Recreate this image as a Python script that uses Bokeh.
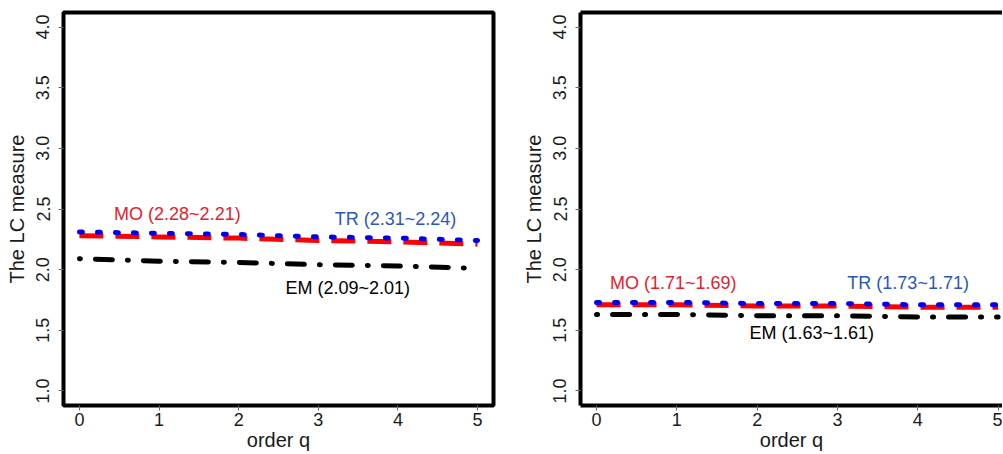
from bokeh.plotting import figure
from bokeh.layouts import row
from bokeh.models import Range1d, FixedTicker, LinearAxis
from bokeh.embed import file_html
from bokeh.resources import INLINE

# ---- data ----
q = [0, 1, 2, 3, 4, 5]
# left panel
mo_left = [2.28, 2.27, 2.26, 2.24, 2.23, 2.21]
tr_left = [2.31, 2.30, 2.29, 2.27, 2.26, 2.24]
em_left = [2.09, 2.07, 2.06, 2.04, 2.03, 2.01]
# right panel
mo_right = [1.71, 1.71, 1.70, 1.70, 1.69, 1.69]
tr_right = [1.73, 1.73, 1.72, 1.72, 1.71, 1.71]
em_right = [1.63, 1.63, 1.62, 1.62, 1.61, 1.61]

labels_left = ["MO (2.28~2.21)", "TR (2.31~2.24)", "EM (2.09~2.01)"]
labels_right = ["MO (1.71~1.69)", "TR (1.73~1.71)", "EM (1.63~1.61)"]
# annotation anchor positions (data coords)
lab_x_left = [1.23, 3.97, 3.37]
lab_y_left = [2.455, 2.42, 1.85]
lab_x_right = [0.955, 3.88, 2.68]
lab_y_right = [1.89, 1.89, 1.48]

x_ticks = [0, 1, 2, 3, 4, 5]
y_ticks = [1.0, 1.5, 2.0, 2.5, 3.0, 3.5, 4.0]
y_tick_labels = {1.0: "1.0", 1.5: "1.5", 2.0: "2.0", 2.5: "2.5", 3.0: "3.0", 3.5: "3.5", 4.0: "4.0"}

FONT = "Liberation Sans"
LINE_RED = "#ff0000"
LINE_BLUE = "#0000ee"
TXT_RED = "#e8202a"
TXT_BLUE = "#2b57b5"
label_colors = [TXT_RED, TXT_BLUE, "#000000"]


def style_axes(p):
    for ax in (p.xaxis[0], p.yaxis[0]):
        ax.major_tick_in = 0
        ax.major_tick_out = 5
        ax.major_tick_line_color = "#666666"
        ax.minor_tick_line_color = None
        ax.major_label_text_font = FONT
        ax.major_label_text_font_size = "18px"
        ax.major_label_text_color = "#1a1a1a"
        ax.axis_label_text_font = FONT
        ax.axis_label_text_font_size = "20px"
        ax.axis_label_text_font_style = "normal"
        ax.axis_label_text_color = "#1a1a1a"
    p.xaxis[0].ticker = FixedTicker(ticks=x_ticks)
    p.yaxis[0].ticker = FixedTicker(ticks=y_ticks)
    p.yaxis[0].major_label_overrides = y_tick_labels
    p.yaxis[0].major_label_orientation = "vertical"
    p.xaxis[0].axis_label = "order q"
    p.yaxis[0].axis_label = "The LC measure"
    p.xaxis[0].major_label_standoff = 2
    p.yaxis[0].major_label_standoff = 9
    p.xaxis[0].axis_label_standoff = 0
    p.yaxis[0].axis_label_standoff = 6
    p.xgrid.visible = False
    p.ygrid.visible = False


def draw_series(p, mo, tr, em, labels, lx, ly):
    p.line(q, em, line_color="#000000", line_width=5, line_dash="1 15 17 15", line_cap="round")
    p.line(q, mo, line_color=LINE_RED, line_width=5, line_dash="24 12")
    p.line(q, tr, line_color=LINE_BLUE, line_width=5, line_dash="3 15", line_cap="round")
    p.text(x=lx, y=ly, text=labels, text_color=label_colors,
           text_font={"value": FONT}, text_font_size="18px",
           text_align="center", text_baseline="middle")


H = 453
# ---- left panel ----
p1 = figure(width=510, height=H, output_backend="svg", toolbar_location=None,
            x_range=Range1d(-0.2, 5.2), y_range=Range1d(0.88, 4.12),
            min_border_left=63, min_border_right=17, min_border_top=12, min_border_bottom=48)
p1.outline_line_color = "#000000"
p1.outline_line_width = 4
p1.xaxis[0].axis_line_color = None
p1.yaxis[0].axis_line_color = None
style_axes(p1)
draw_series(p1, mo_left, tr_left, em_left, labels_left, lab_x_left, lab_y_left)

# ---- right panel (cut off at the right edge) ----
p2 = figure(width=492, height=H, output_backend="svg", toolbar_location=None,
            x_range=Range1d(-0.2, 5.055), y_range=Range1d(0.88, 4.12),
            min_border_left=70, min_border_right=0, min_border_top=12, min_border_bottom=48)
p2.outline_line_color = None
style_axes(p2)
p2.xaxis[0].axis_line_color = "#000000"
p2.xaxis[0].axis_line_width = 4
p2.yaxis[0].axis_line_color = "#000000"
p2.yaxis[0].axis_line_width = 4
top_ax = LinearAxis(ticker=FixedTicker(ticks=[]), axis_line_color="#000000", axis_line_width=4,
                    major_tick_line_color=None, minor_tick_line_color=None,
                    major_label_text_font_size="0px")
p2.add_layout(top_ax, "above")
draw_series(p2, mo_right, tr_right, em_right, labels_right, lab_x_right, lab_y_right)

layout = row(p1, p2)
open("out.html", "w").write(file_html(layout, INLINE))
